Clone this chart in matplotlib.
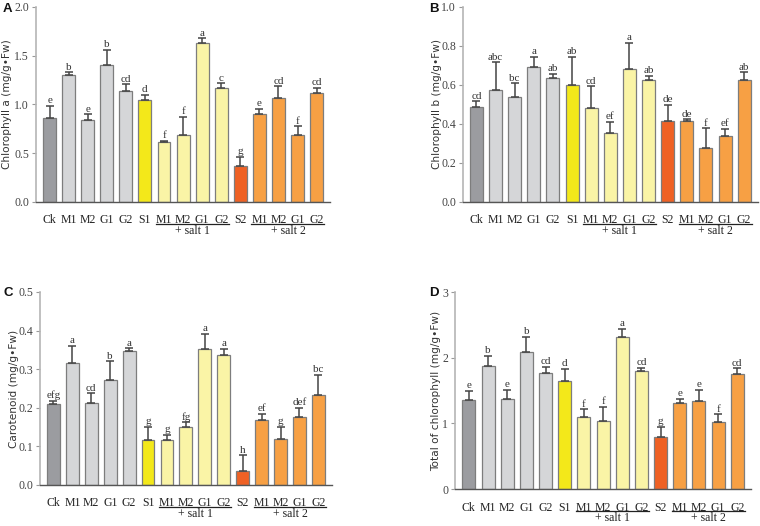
# Pigment content bar charts, four panels (A-D)
import numpy as np
import matplotlib.pyplot as plt
from matplotlib import transforms

labels = ['Ck', 'M1', 'M2', 'G1', 'G2', 'S1', 'M1', 'M2', 'G1', 'G2',
          'S2', 'M1', 'M2', 'G1', 'G2']

# A - chlorophyll a
chl_a = [0.863, 1.305, 0.839, 1.40, 1.137, 1.041, 0.613, 0.685, 1.627, 1.168,
         0.373, 0.90, 1.065, 0.688, 1.116]
chl_a_err = [0.12, 0.024, 0.06, 0.16, 0.07, 0.06, 0.017, 0.185, 0.05, 0.048,
             0.09, 0.055, 0.12, 0.086, 0.055]
chl_a_sig = ['e', 'b', 'e', 'b', 'cd', 'd', 'f', 'f', 'a', 'c', 'g', 'e', 'cd', 'f', 'cd']

# B - chlorophyll b
chl_b = [0.489, 0.575, 0.536, 0.694, 0.633, 0.602, 0.48, 0.352, 0.682, 0.624,
         0.416, 0.413, 0.277, 0.338, 0.627]
chl_b_err = [0.027, 0.14, 0.072, 0.05, 0.022, 0.142, 0.112, 0.058, 0.135, 0.021,
             0.082, 0.01, 0.101, 0.036, 0.038]
chl_b_sig = ['cd', 'abc', 'bc', 'a', 'ab', 'ab', 'cd', 'ef', 'a', 'ab', 'de', 'de', 'f', 'ef', 'ab']

# C - carotenoid
carot = [0.209, 0.315, 0.212, 0.273, 0.347, 0.116, 0.116, 0.15, 0.352, 0.337,
         0.037, 0.167, 0.118, 0.175, 0.234]
carot_err = [0.008, 0.046, 0.025, 0.047, 0.007, 0.035, 0.013, 0.012, 0.039, 0.015,
             0.04, 0.017, 0.032, 0.024, 0.051]
carot_sig = ['efg', 'a', 'cd', 'b', 'a', 'g', 'g', 'fg', 'a', 'a', 'h', 'ef', 'g', 'def', 'bc']

# D - total chlorophyll
total = [1.353, 1.88, 1.373, 2.094, 1.77, 1.647, 1.093, 1.032, 2.313, 1.80,
         0.793, 1.312, 1.342, 1.027, 1.749]
total_err = [0.147, 0.15, 0.142, 0.226, 0.09, 0.183, 0.122, 0.218, 0.127, 0.045,
             0.157, 0.066, 0.168, 0.112, 0.091]
total_sig = ['e', 'b', 'e', 'b', 'cd', 'd', 'f', 'f', 'a', 'cd', 'g', 'e', 'e', 'f', 'cd']

colors = ['#9b9ca0'] + ['#d5d6d8'] * 4 + ['#f3e81a'] + ['#faf4a6'] * 4 + \
         ['#ef6124'] + ['#f7a044'] * 4

serif = 'Liberation Serif'
sans = 'Liberation Sans'

fig = plt.figure(figsize=(7.6, 5.26), dpi=100)


def panel(rect, vals, errs, sig, ymax, step, ylabel, fmt, ylab_x):
    ax = fig.add_axes(rect)
    x = np.arange(len(vals))
    ax.bar(x, vals, width=0.68, color=colors, edgecolor='#7d7d7d', linewidth=0.9, zorder=2)
    ax.errorbar(x, vals, yerr=[np.zeros(len(vals)), errs], fmt='none',
                ecolor='#444444', elinewidth=1.1, capsize=2.6, capthick=1.1, zorder=3)
    for xi, v, e, s in zip(x, vals, errs, sig):
        ax.annotate(s, (xi, v + e), xytext=(0, 0.5), textcoords='offset points',
                    ha='center', va='bottom', fontsize=8, family=serif, color='#333333')
    ax.set_xlim(-0.71, len(vals) - 1 + 0.71)
    ax.set_ylim(0, ymax)
    ticks = np.arange(0, ymax + step / 2, step)
    ax.set_yticks(ticks)
    ax.set_yticklabels([fmt.format(t) for t in ticks], family=serif, fontsize=8.5, color='#444444')
    ax.set_xticks(x)
    ax.set_xticklabels(labels, family=serif, fontsize=8.5, color='#222222')
    ax.tick_params(axis='x', length=0, pad=9)
    ax.tick_params(axis='y', length=3, width=0.8, color='#999999', pad=2)
    for side in ['top', 'right']:
        ax.spines[side].set_visible(False)
    ax.spines['left'].set_color('#b5b5b5')
    ax.spines['left'].set_linewidth(1.2)
    ax.spines['bottom'].set_color('#555555')
    ax.spines['bottom'].set_linewidth(1.0)
    ax.set_ylabel(ylabel, family='DejaVu Sans', fontsize=7.6, color='#333333')
    ax.yaxis.set_label_coords(ylab_x, 0.5)

    # group underlines for the salt treatments
    tr = transforms.blended_transform_factory(ax.transData, ax.transAxes)
    h = rect[3] * 526
    for (i0, i1, name) in [(6, 9, '+ salt 1'), (11, 14, '+ salt 2')]:
        ax.plot([i0 - 0.42, i1 + 0.4], [-22 / h, -22 / h], transform=tr,
                color='#222222', lw=0.9, clip_on=False)
        ax.text((i0 + i1) / 2, -29 / h, name, transform=tr, ha='center', va='center',
                family=serif, fontsize=8.5, color='#222222')
    return ax


panel([0.0474, 0.616, 0.387, 0.371], chl_a, chl_a_err, chl_a_sig, 2.0, 0.5,
      'Chlorophyll a (mg/g\u2022Fw)', '{:.1f}', -0.080)
panel([0.609, 0.616, 0.388, 0.371], chl_b, chl_b_err, chl_b_sig, 1.0, 0.2,
      'Chlorophyll b (mg/g\u2022Fw)', '{:.1f}', -0.070)
panel([0.0526, 0.078, 0.384, 0.367], carot, carot_err, carot_sig, 0.5, 0.1,
      'Carotenoid (mg/g\u2022Fw)', '{:.1f}', -0.072)
panel([0.599, 0.0703, 0.389, 0.3745], total, total_err, total_sig, 3, 1,
      'Total of chlorophyll (mg/g\u2022Fw)', '{:.0f}', -0.047)

for lab, px, py in [('A', 3, 3), ('B', 429, 3), ('C', 4, 287), ('D', 429, 287)]:
    fig.text(px / 760, 1 - py / 526, lab, ha='left', va='top', family=sans,
             fontweight='bold', fontsize=9.5, color='#111111')

fig.savefig('out.png', dpi=100)
